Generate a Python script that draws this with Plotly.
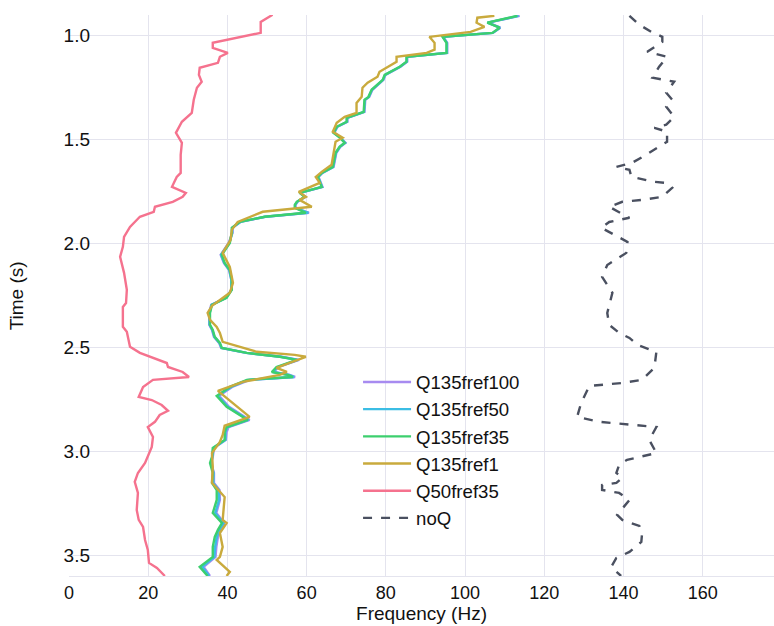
import plotly.graph_objects as go

# Dominant frequency (Hz) versus time (s) for each attenuation model

# Shared time samples for the Q=135 runs
t_q135 = [0.904, 0.937, 0.961, 0.986, 1.005, 1.034, 1.082, 1.101, 1.125, 1.149,
          1.188, 1.212, 1.260, 1.294, 1.308, 1.366, 1.395, 1.414, 1.438, 1.467,
          1.486, 1.515, 1.534, 1.563, 1.631, 1.645, 1.660, 1.679, 1.727, 1.756,
          1.775, 1.799, 1.814, 1.828, 1.852, 1.871, 1.896, 1.924, 1.948, 1.997,
          2.054, 2.093, 2.127, 2.175, 2.223, 2.261, 2.295, 2.334, 2.391, 2.416,
          2.449, 2.478, 2.502, 2.526, 2.545, 2.560, 2.594, 2.618, 2.632, 2.642,
          2.656, 2.690, 2.733, 2.786, 2.825, 2.849, 2.883, 2.907, 2.945, 2.984,
          3.027, 3.056, 3.104, 3.152, 3.186, 3.234, 3.297, 3.345, 3.378, 3.412,
          3.460, 3.508, 3.556, 3.600]

f_q135fref100 = [113.8, 105.8, 108.9, 107.0, 94.5, 95.5, 95.5, 85.4, 85.4, 83.7,
                 79.9, 79.4, 76.6, 75.8, 74.8, 74.6, 70.3, 70.3, 67.8, 67.0,
                 68.3, 69.8, 68.5, 67.5, 66.8, 65.3, 64.0, 63.0, 64.0, 58.4,
                 59.7, 57.7, 57.2, 57.2, 60.6, 49.6, 43.3, 41.3, 41.3, 40.3,
                 38.3, 39.1, 40.4, 41.0, 41.0, 39.6, 35.9, 35.4, 35.4, 36.1,
                 36.6, 37.9, 38.4, 44.7, 53.6, 58.1, 52.9, 51.7, 55.7, 57.1,
                 45.6, 41.2, 37.9, 40.4, 43.7, 45.6, 40.3, 39.8, 39.6, 36.6,
                 36.3, 35.9, 36.6, 36.6, 38.0, 38.1, 37.2, 39.2, 38.3, 37.6,
                 37.2, 37.0, 34.0, 35.6]

f_q135fref50 = [113.5, 105.7, 108.8, 107.0, 94.4, 95.4, 95.4, 85.3, 85.3, 83.6,
                79.8, 79.3, 76.5, 75.7, 74.7, 74.5, 70.2, 70.2, 67.7, 66.9,
                68.2, 69.7, 68.4, 67.4, 66.7, 65.2, 63.9, 62.9, 63.9, 58.3,
                59.6, 57.6, 57.1, 57.1, 60.4, 49.5, 43.2, 41.2, 41.2, 40.5,
                38.4, 39.2, 40.5, 41.0, 41.0, 39.7, 36.0, 35.5, 35.5, 36.2,
                36.7, 38.0, 38.5, 44.8, 53.4, 57.8, 52.7, 51.5, 55.5, 56.8,
                45.2, 40.9, 37.6, 40.1, 43.4, 45.3, 40.0, 39.5, 39.5, 36.5,
                36.2, 35.8, 36.5, 36.4, 37.8, 37.9, 36.9, 39.0, 38.0, 37.3,
                36.9, 36.7, 33.6, 35.4]

f_q135fref35 = [113.2, 105.6, 108.7, 106.9, 94.3, 95.3, 95.3, 85.2, 85.2, 83.5,
                79.7, 79.2, 76.4, 75.6, 74.6, 74.4, 70.1, 70.1, 67.6, 66.8,
                68.1, 69.6, 68.3, 67.3, 66.6, 65.1, 63.8, 62.8, 63.8, 58.2,
                59.5, 57.5, 57.0, 57.0, 59.8, 49.4, 43.1, 41.1, 41.1, 40.6,
                38.6, 39.3, 40.6, 41.1, 41.1, 39.8, 36.1, 35.6, 35.6, 36.3,
                36.8, 38.1, 38.6, 44.9, 53.2, 57.5, 52.4, 51.2, 55.2, 56.5,
                44.9, 40.6, 37.3, 39.8, 43.1, 45.1, 39.8, 39.3, 39.3, 36.3,
                36.1, 35.6, 36.3, 36.1, 37.3, 37.3, 36.3, 38.6, 37.6, 36.8,
                36.3, 36.3, 33.0, 35.0]

t_q135fref1 = [0.904, 0.913, 0.937, 0.957, 0.981, 1.005, 1.034, 1.067, 1.082, 1.101,
               1.125, 1.173, 1.197, 1.226, 1.250, 1.294, 1.323, 1.371, 1.390, 1.419,
               1.462, 1.491, 1.510, 1.583, 1.621, 1.655, 1.679, 1.708, 1.751, 1.775,
               1.790, 1.823, 1.833, 1.847, 1.896, 1.934, 1.982, 2.045, 2.112, 2.189,
               2.237, 2.300, 2.334, 2.367, 2.401, 2.430, 2.473, 2.521, 2.536, 2.545,
               2.574, 2.598, 2.618, 2.632, 2.666, 2.709, 2.834, 2.877, 2.921, 2.955,
               3.008, 3.075, 3.152, 3.186, 3.220, 3.330, 3.345, 3.393, 3.460, 3.508,
               3.523, 3.580, 3.600]
f_q135fref1 = [107.4, 103.1, 102.9, 104.9, 101.4, 91.0, 92.3, 92.3, 90.3, 82.7,
               82.7, 78.4, 77.9, 75.4, 74.1, 73.9, 72.6, 72.6, 69.6, 67.6,
               66.6, 69.1, 67.3, 66.6, 66.3, 63.8, 62.3, 63.3, 58.0, 59.8,
               58.2, 61.3, 56.5, 48.9, 42.6, 41.1, 40.8, 38.8, 40.6, 41.4,
               40.6, 36.1, 35.0, 35.6, 37.3, 38.1, 38.8, 47.4, 57.0, 59.8,
               55.7, 52.4, 55.0, 53.2, 43.9, 37.6, 45.6, 39.3, 38.8, 38.1,
               36.1, 36.3, 36.1, 37.6, 39.3, 38.8, 39.8, 38.1, 38.8, 38.1,
               37.3, 40.6, 39.8]

t_q50fref35 = [0.899, 0.933, 0.986, 1.005, 1.034, 1.058, 1.082, 1.101, 1.130, 1.154,
               1.188, 1.221, 1.250, 1.308, 1.371, 1.414, 1.467, 1.515, 1.573, 1.660,
               1.679, 1.727, 1.756, 1.775, 1.799, 1.823, 1.847, 1.871, 1.920, 1.968,
               2.016, 2.064, 2.141, 2.223, 2.286, 2.305, 2.401, 2.425, 2.497, 2.526,
               2.555, 2.575, 2.594, 2.618, 2.642, 2.656, 2.690, 2.738, 2.753, 2.777,
               2.805, 2.825, 2.858, 2.883, 2.931, 2.979, 3.056, 3.104, 3.147, 3.200,
               3.282, 3.330, 3.364, 3.427, 3.475, 3.537, 3.561, 3.590, 3.600]
f_q50fref35 = [51.4, 48.4, 48.4, 43.9, 36.3, 36.3, 40.1, 38.1, 37.6, 33.0,
               32.8, 33.5, 32.3, 31.5, 31.0, 28.5, 27.0, 28.5, 28.2, 28.2,
               27.2, 26.0, 29.5, 28.7, 26.2, 21.7, 21.4, 17.9, 15.4, 13.9,
               13.6, 12.9, 13.9, 14.6, 14.4, 13.6, 13.6, 14.6, 15.4, 17.9,
               22.2, 24.7, 25.0, 28.7, 30.3, 21.2, 18.7, 17.6, 20.9, 23.4,
               25.0, 22.9, 21.7, 19.9, 21.2, 20.9, 19.2, 17.4, 16.6, 17.4,
               17.1, 17.6, 18.7, 19.2, 19.9, 20.2, 22.2, 23.7, 24.2]

t_noq = [0.904, 0.947, 0.981, 1.005, 1.029, 1.077, 1.101, 1.149, 1.202, 1.221,
         1.274, 1.308, 1.342, 1.390, 1.428, 1.443, 1.462, 1.510, 1.573, 1.611,
         1.631, 1.645, 1.679, 1.703, 1.708, 1.732, 1.775, 1.790, 1.799, 1.823,
         1.876, 1.896, 1.924, 1.968, 1.992, 2.045, 2.103, 2.160, 2.237, 2.334,
         2.391, 2.430, 2.454, 2.488, 2.521, 2.598, 2.656, 2.671, 2.685, 2.767,
         2.834, 2.858, 2.878, 2.883, 2.945, 3.008, 3.041, 3.065, 3.104, 3.128,
         3.152, 3.162, 3.186, 3.200, 3.234, 3.306, 3.330, 3.359, 3.393, 3.436,
         3.484, 3.513, 3.556, 3.600]
f_noq = [141.5, 144.0, 147.0, 149.8, 149.8, 146.0, 151.0, 149.0, 147.3, 152.8,
         150.8, 152.3, 150.8, 152.8, 150.8, 147.8, 151.0, 151.0, 145.7, 142.2,
         138.2, 141.5, 142.0, 147.8, 150.8, 152.3, 149.8, 144.7, 139.7, 136.4,
         141.5, 136.4, 134.4, 138.9, 141.0, 140.7, 135.9, 134.6, 137.2, 135.9,
         136.4, 138.9, 141.5, 143.5, 148.3, 147.8, 144.7, 139.7, 131.4, 129.3,
         128.3, 133.9, 145.7, 148.3, 146.5, 148.3, 140.9, 138.9, 138.2, 139.7,
         138.2, 134.6, 134.6, 138.9, 141.5, 138.4, 139.7, 144.0, 144.7, 144.5,
         141.5, 138.2, 136.9, 139.4]

series = [
    ("Q135fref100", f_q135fref100, t_q135, "#a78bf0", "solid"),
    ("Q135fref50", f_q135fref50, t_q135, "#3bbde4", "solid"),
    ("Q135fref35", f_q135fref35, t_q135, "#3ccf6e", "solid"),
    ("Q135fref1", f_q135fref1, t_q135fref1, "#c9aa3d", "solid"),
    ("Q50fref35", f_q50fref35, t_q50fref35, "#f5728e", "solid"),
    ("noQ", f_noq, t_noq, "#4a5060", "dash"),
]

fig = go.Figure()
for name, f, t, color, dash in series:
    fig.add_trace(go.Scatter(
        x=f, y=t, mode="lines", name=name,
        line=dict(color=color, width=2.4, dash=dash),
    ))

grid = "#e4e4ee"
font_family = "Liberation Sans, Arial, sans-serif"
fig.update_layout(
    width=774, height=626,
    margin=dict(l=69, r=0, t=15, b=50, autoexpand=False),
    paper_bgcolor="white", plot_bgcolor="white",
    font=dict(family=font_family, size=19, color="#111111"),
    legend=dict(
        x=0.41, y=0.379, xanchor="left", yanchor="top",
        bgcolor="rgba(0,0,0,0)", font=dict(family=font_family, size=18.6),
        itemwidth=48, tracegroupgap=0,
    ),
    xaxis=dict(
        title=dict(text="Frequency (Hz)", standoff=0, font=dict(family=font_family, size=19)),
        range=[0, 178], tickvals=[0, 20, 40, 60, 80, 100, 120, 140, 160],
        tickfont=dict(family=font_family, size=18),
        showgrid=True, gridcolor=grid, gridwidth=1,
        zeroline=False, showline=True, linecolor=grid, linewidth=1,
        ticks="", automargin=False,
    ),
    yaxis=dict(
        title=dict(text="Time (s)", standoff=0, font=dict(family=font_family, size=19)),
        range=[3.6, 0.9], tickvals=[1.0, 1.5, 2.0, 2.5, 3.0, 3.5],
        ticktext=["1.0", "1.5", "2.0", "2.5", "3.0", "3.5"],
        tickfont=dict(family=font_family, size=19),
        showgrid=True, gridcolor=grid, gridwidth=1,
        zeroline=False, showline=False,
        ticks="", automargin=False, ticklabelstandoff=-22,
    ),
)

# Place the time-axis title at the left edge of the figure
fig.update_layout(yaxis_title_text="")
fig.add_annotation(
    text="Time (s)", textangle=-90, showarrow=False,
    xref="paper", yref="paper", x=-0.074, y=0.5,
    xanchor="center", yanchor="middle",
    font=dict(family=font_family, size=19, color="#111111"),
)

fig.write_html("out.html")
